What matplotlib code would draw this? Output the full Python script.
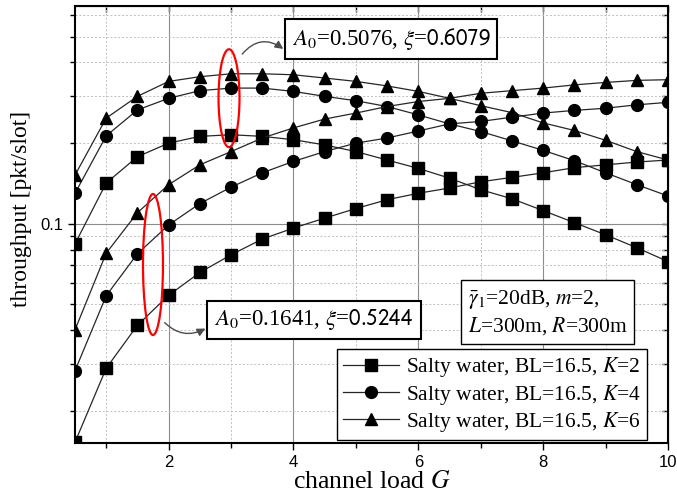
import matplotlib
matplotlib.use("Agg")
import matplotlib.pyplot as plt
import numpy as np
from matplotlib.patches import Ellipse

plt.rcParams['mathtext.fontset'] = 'stix'

# channel load G
load = [0.5, 1, 1.5, 2, 2.5, 3, 3.5, 4, 4.5, 5, 5.5, 6, 6.5, 7, 7.5, 8, 8.5, 9, 9.5, 10]

# A0=0.5076, xi=0.6079
hi_k2 = [0.0842, 0.142, 0.178, 0.200, 0.212, 0.215, 0.212, 0.206, 0.197, 0.186,
         0.173, 0.161, 0.148, 0.134, 0.124, 0.112, 0.101, 0.091, 0.0814, 0.0723]
hi_k4 = [0.130, 0.213, 0.266, 0.294, 0.314, 0.321, 0.321, 0.312, 0.299, 0.288,
         0.274, 0.255, 0.236, 0.221, 0.204, 0.188, 0.172, 0.155, 0.140, 0.127]
hi_k6 = [0.152, 0.248, 0.299, 0.340, 0.354, 0.363, 0.363, 0.360, 0.350, 0.340,
         0.327, 0.312, 0.294, 0.276, 0.260, 0.238, 0.223, 0.205, 0.186, 0.173]

# A0=0.1641, xi=0.5244
lo_k2 = [0.0153, 0.0289, 0.0418, 0.0541, 0.0658, 0.0766, 0.0877, 0.0964, 0.105, 0.114,
         0.123, 0.130, 0.136, 0.1435, 0.149, 0.155, 0.162, 0.166, 0.170, 0.173]
lo_k4 = [0.0283, 0.0539, 0.0773, 0.099, 0.119, 0.137, 0.155, 0.171, 0.186, 0.200,
         0.209, 0.222, 0.236, 0.241, 0.250, 0.259, 0.265, 0.270, 0.278, 0.284]
lo_k6 = [0.0402, 0.0777, 0.110, 0.140, 0.166, 0.186, 0.209, 0.228, 0.246, 0.259,
         0.274, 0.286, 0.294, 0.307, 0.314, 0.321, 0.330, 0.337, 0.343, 0.345]

legend_labels = [r'Salty water, BL=16.5, $K$=2',
                 r'Salty water, BL=16.5, $K$=4',
                 r'Salty water, BL=16.5, $K$=6']

serif = 'Liberation Serif'
sans = 'Liberation Sans'

fig = plt.figure(figsize=(6.77, 5.0), dpi=100)
ax = fig.add_axes([0.1108, 0.114, 0.8759, 0.874])
ax.set_yscale('log')

style = dict(color='0.15', lw=0.9, markerfacecolor='black', markeredgecolor='black')
ax.plot(load, hi_k2, marker='s', ms=8, **style)
ax.plot(load, hi_k4, marker='o', ms=8.5, **style)
ax.plot(load, hi_k6, marker='^', ms=9, **style)
ax.plot(load, lo_k2, marker='s', ms=8, **style)
ax.plot(load, lo_k4, marker='o', ms=8.5, **style)
ax.plot(load, lo_k6, marker='^', ms=9, **style)

ax.set_xlim(0.5, 10)
ax.set_ylim(0.0152, 0.65)

ax.set_xticks([2, 4, 6, 8, 10])
ax.set_xticks([1, 3, 5, 7, 9], minor=True)
ax.set_yticks([0.1])
ax.set_yticklabels(['0.1'])
ax.set_yticks([0.02, 0.03, 0.04, 0.05, 0.06, 0.07, 0.08, 0.09,
               0.2, 0.3, 0.4, 0.5, 0.6], minor=True)
ax.yaxis.set_minor_formatter(matplotlib.ticker.NullFormatter())
for lab in ax.get_xticklabels() + ax.get_yticklabels():
    lab.set_fontfamily(sans)
    lab.set_fontsize(12)
ax.tick_params(which='major', direction='out', length=5, width=1)
ax.tick_params(which='minor', direction='out', length=3.5, width=1)

ax.grid(True, which='major', color='0.55', lw=0.8, ls='-')
ax.grid(True, which='minor', color='0.75', lw=0.7, ls=(0, (2, 2)))
ax.set_axisbelow(True)
for sp in ax.spines.values():
    sp.set_linewidth(1.5)

top = ax.secondary_xaxis('top')
top.set_xticks([2, 4, 6, 8, 10])
top.set_xticks([1, 3, 5, 7, 9], minor=True)
top.tick_params(which='both', direction='in', labeltop=False, length=4, width=1)
right = ax.secondary_yaxis('right')
right.set_yticks([0.1])
right.set_yticks([0.02, 0.03, 0.04, 0.05, 0.06, 0.07, 0.08, 0.09,
                  0.2, 0.3, 0.4, 0.5, 0.6], minor=True)
right.tick_params(which='both', direction='in', labelright=False, length=4, width=1)
right.yaxis.set_minor_formatter(matplotlib.ticker.NullFormatter())

ax.set_xlabel(r'channel load $G$', fontfamily=serif, fontsize=18.5, labelpad=1)
ax.set_ylabel('throughput [pkt/slot]', fontfamily=serif, fontsize=17)
ax.yaxis.set_label_coords(-0.072, 0.535)

# red ellipses
ax.add_patch(Ellipse((0.2597, 0.789), 0.0354, 0.224, transform=ax.transAxes,
                     fill=False, ec='red', lw=1.6, zorder=5))
ax.add_patch(Ellipse((0.1315, 0.4085), 0.0337, 0.3227, transform=ax.transAxes,
                     fill=False, ec='red', lw=1.6, zorder=5))

box = dict(boxstyle='square,pad=0.3', fc='white', ec='black', lw=1.5)
arrow = dict(arrowstyle='-|>', color='0.3', lw=1, mutation_scale=12)
ax.annotate(r'$A_0$=0.5076, $\xi$=$\mathsf{0.6079}$', xy=(0.282, 0.9), xycoords='axes fraction',
            xytext=(0.533, 0.925), textcoords='axes fraction', ha='center', va='center',
            fontfamily=serif, fontsize=16.5, bbox=box, zorder=6)
ax.annotate('', xy=(0.355, 0.898), xycoords='axes fraction',
            xytext=(0.279, 0.885), textcoords='axes fraction',
            arrowprops=dict(connectionstyle='arc3,rad=-0.5', **arrow), zorder=6)
ax.annotate(r'$A_0$=0.1641, $\xi$=$\mathsf{0.5244}$', xy=(0.2, 0.28), xycoords='axes fraction',
            xytext=(0.403, 0.2815), textcoords='axes fraction', ha='center', va='center',
            fontfamily=serif, fontsize=16.5, bbox=box, zorder=6)
ax.annotate('', xy=(0.224, 0.265), xycoords='axes fraction',
            xytext=(0.148, 0.28), textcoords='axes fraction',
            arrowprops=dict(connectionstyle='arc3,rad=0.4', **arrow), zorder=6)

ax.text(0.662, 0.2986, '$\\bar{\\gamma}_1$=20dB, $m$=2,\n$L$=300m, $R$=300m',
        transform=ax.transAxes, ha='left', va='center', fontfamily=serif, fontsize=15.5,
        linespacing=1.3, bbox=dict(boxstyle='square,pad=0.3', fc='white', ec='black', lw=1),
        zorder=6)

handles = [plt.Line2D([], [], marker=m, ms=s, **style) for m, s in (('s', 8), ('o', 8.5), ('^', 9))]
leg = ax.legend(handles, legend_labels, loc='lower right', bbox_to_anchor=(0.965, 0.006),
                borderaxespad=0, prop={'family': serif, 'size': 15.5}, frameon=True,
                fancybox=False, edgecolor='black', framealpha=1, handlelength=2.6,
                handletextpad=0.3, borderpad=0.3, labelspacing=0.15)
leg.get_frame().set_linewidth(1)
leg.set_zorder(7)

fig.savefig('out.png', dpi=100)
